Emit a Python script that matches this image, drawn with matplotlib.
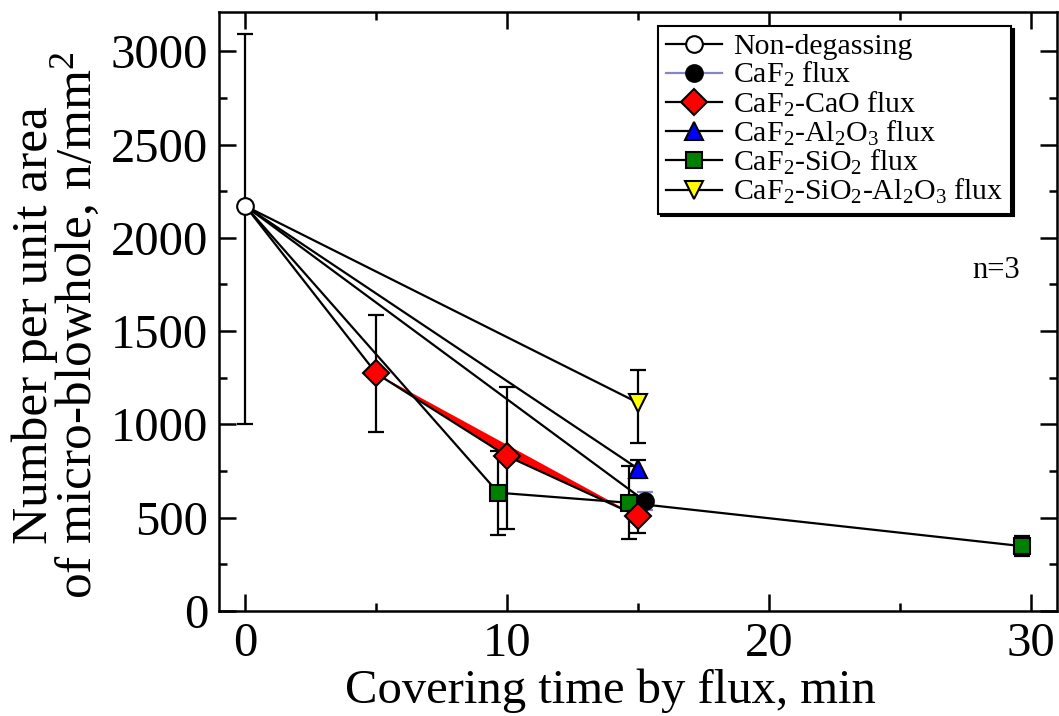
import matplotlib
matplotlib.use("Agg")
import matplotlib.pyplot as plt
from matplotlib.lines import Line2D

plt.rcParams['font.family'] = ['Liberation Serif', 'DejaVu Serif']
plt.rcParams['mathtext.fontset'] = 'custom'
plt.rcParams['mathtext.rm'] = 'Liberation Serif'
plt.rcParams['mathtext.it'] = 'Liberation Serif:italic'

# starting point (no degassing)
t0 = 0.0
n0 = 2170
n0_lo, n0_hi = 1004, 3090

# covering time (min), blowhole count (n/mm^2) and error bar limits
caf2_t = [15.27]
caf2_n = [589]
caf2_lo = [539]
caf2_hi = [637]

cao_t = [5.0, 10.0, 15.0]
cao_n = [1273, 830, 508]
cao_lo = [961, 441, 416]
cao_hi = [1584, 1202, 600]

al_t = [15.0]
al_n = [763]
al_lo = [714]
al_hi = [812]

si_t = [9.66, 14.66, 29.66]
si_n = [634, 580, 348]
si_lo = [410, 384, 293]
si_hi = [855, 776, 400]

sial_t = [15.0]
sial_n = [1116]
sial_lo = [902]
sial_hi = [1291]

fig = plt.figure(figsize=(10.59, 7.16), dpi=100)
ax = fig.add_axes([0.2071, 0.1466, 0.7907, 0.8366])

LW = 1.6


def errs(n, lo, hi):
    return [[v - l for v, l in zip(n, lo)], [h - v for v, h in zip(n, hi)]]


# connecting lines, every series starts from the non-degassed value
for t, n in [(sial_t, sial_n), (al_t, al_n), (caf2_t, caf2_n), (si_t, si_n), (cao_t, cao_n)]:
    ax.plot([t0] + t, [n0] + n, color='k', lw=LW, zorder=2)

# CaO series drawn as a filled polygon
ax.fill(cao_t, cao_n, color='red', lw=0, zorder=1.9)

# error bars
eb = dict(fmt='none', capsize=6, elinewidth=1.6, capthick=1.6, zorder=3)
ax.errorbar([t0], [n0], yerr=errs([n0], [n0_lo], [n0_hi]), ecolor='k', **eb)
ax.errorbar(cao_t, cao_n, yerr=errs(cao_n, cao_lo, cao_hi), ecolor='k', **eb)
ax.errorbar(si_t, si_n, yerr=errs(si_n, si_lo, si_hi), ecolor='k', **eb)
ax.errorbar(al_t, al_n, yerr=errs(al_n, al_lo, al_hi), ecolor='k', **eb)
ax.errorbar(sial_t, sial_n, yerr=errs(sial_n, sial_lo, sial_hi), ecolor='k', **eb)
ax.errorbar(caf2_t, caf2_n, yerr=errs(caf2_n, caf2_lo, caf2_hi), ecolor='#8585c8', **eb)

# markers
mk = dict(ls='none', mec='k', mew=1.5, zorder=4)
ax.plot(si_t, si_n, marker='s', ms=11.5, mfc='#008000', **mk)
ax.plot(caf2_t, caf2_n, marker='o', ms=12, mfc='k', **mk)
ax.plot(cao_t, cao_n, marker='D', ms=13, mfc='red', **mk)
ax.plot(al_t, al_n, marker='^', ms=13, mfc='blue', **mk)
ax.plot(sial_t, sial_n, marker='v', ms=13, mfc='yellow', **mk)
ax.plot([t0], [n0], marker='o', ms=12, mfc='white', **mk)

ax.set_xlim(-1, 31)
ax.set_ylim(0, 3210)
ax.set_xticks([0, 10, 20, 30])
ax.set_xticks([5, 15, 25], minor=True)
ax.set_yticks([0, 500, 1000, 1500, 2000, 2500, 3000])
ax.set_yticks(range(250, 3210, 500), minor=True)
ax.tick_params(which='both', direction='in', top=True, right=True, width=1.8,
               labelsize=35, pad=8)
ax.tick_params(which='major', length=12)
ax.tick_params(which='minor', length=6)
for s in ax.spines.values():
    s.set_linewidth(1.8)

ax.set_xlabel('Covering time by flux, min', fontsize=35, labelpad=2, x=0.467)
ax.set_ylabel('Number per unit area\nof micro-blowhole, n/mm$^{2}$', fontsize=37,
              linespacing=0.82, labelpad=6, y=0.477)

ax.text(0.956, 0.569, 'n=3', transform=ax.transAxes, fontsize=22,
        ha='right', va='center')

# legend
labels = ['Non-degassing', r'CaF$\mathregular{_2}$ flux', r'CaF$\mathregular{_2}$-CaO flux',
          r'CaF$\mathregular{_2}$-Al$\mathregular{_2}$O$\mathregular{_3}$ flux',
          r'CaF$\mathregular{_2}$-SiO$\mathregular{_2}$ flux',
          r'CaF$\mathregular{_2}$-SiO$\mathregular{_2}$-Al$\mathregular{_2}$O$\mathregular{_3}$ flux']
handles = [
    Line2D([], [], color='k', lw=LW, marker='o', ms=12, mfc='white', mec='k', mew=1.5),
    Line2D([], [], color='#8585c8', lw=LW, marker='o', ms=12, mfc='k', mec='k', mew=1.5),
    Line2D([], [], color='k', lw=LW, marker='D', ms=13, mfc='red', mec='k', mew=1.5),
    Line2D([], [], color='k', lw=LW, marker='^', ms=13, mfc='blue', mec='k', mew=1.5),
    Line2D([], [], color='k', lw=LW, marker='s', ms=11.5, mfc='#008000', mec='k', mew=1.5),
    Line2D([], [], color='k', lw=LW, marker='v', ms=13, mfc='yellow', mec='k', mew=1.5),
]
leg = ax.legend(handles, labels, loc='upper left', bbox_to_anchor=(0.524, 0.977),
                borderaxespad=0, fontsize=21.5, frameon=True, fancybox=False,
                shadow={'color': 'k', 'alpha': 1}, handlelength=1.9,
                handletextpad=0.37, labelspacing=0.0, borderpad=0.25)
leg.get_frame().set_edgecolor('k')
leg.get_frame().set_linewidth(1.5)
leg.set_zorder(10)

fig.savefig('out.png', dpi=100)
